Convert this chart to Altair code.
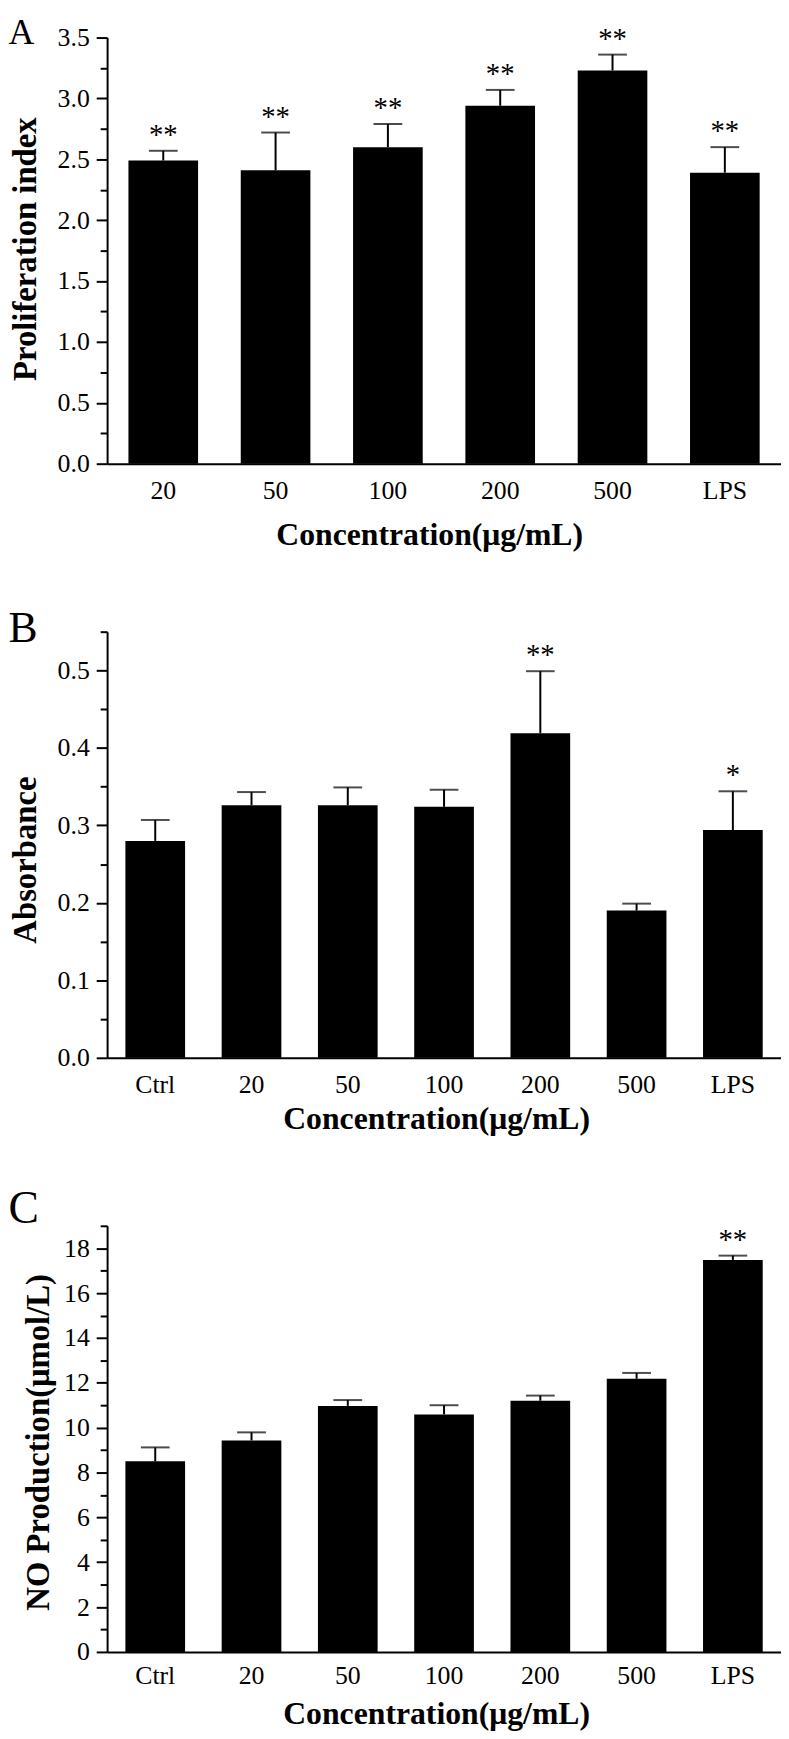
import altair as alt
import pandas as pd

# ---------------- data ----------------
cats_a = ["20", "50", "100", "200", "500", "LPS"]
prolif_mean = [2.49, 2.41, 2.60, 2.94, 3.23, 2.39]
prolif_err = [0.08, 0.31, 0.19, 0.13, 0.13, 0.21]
prolif_sig = ["**", "**", "**", "**", "**", "**"]

cats_bc = ["Ctrl", "20", "50", "100", "200", "500", "LPS"]
absorb_mean = [0.280, 0.326, 0.326, 0.324, 0.419, 0.190, 0.294]
absorb_err = [0.027, 0.017, 0.023, 0.022, 0.080, 0.009, 0.050]
absorb_sig = ["", "", "", "", "**", "", "*"]

no_mean = [8.50, 9.43, 10.97, 10.59, 11.20, 12.18, 17.48]
no_err = [0.62, 0.36, 0.26, 0.41, 0.23, 0.26, 0.19]
no_sig = ["", "", "", "", "", "", "**"]

FONT = "Liberation Serif"


def panel(cats, means, errs, sigs, letter, letter_size, letter_y,
          ytitle, ydomain, yticks, major_test, label_fmt,
          ytitle_x, ytitle_y, ytitle_size, xtitle_x, xtitle_y, xlabel_pad):
    df = pd.DataFrame({"cat": cats, "mean": means, "err": errs, "sig": sigs})
    base = alt.Chart(df).transform_calculate(upper="datum.mean + datum.err")

    x_enc = alt.X(
        "cat:N", sort=cats,
        scale=alt.Scale(paddingInner=0.38, paddingOuter=0.19),
        axis=alt.Axis(
            title="Concentration(μg/mL)", titleFontSize=32, titleFontWeight="bold",
            titleX=xtitle_x, titleY=xtitle_y, titleAlign="center",
            titleBaseline="alphabetic", ticks=False, labelPadding=xlabel_pad,
            labelAngle=0, labelFontSize=26,
        ),
    )
    y_scale = alt.Scale(domain=ydomain, nice=False, zero=True)
    y_axis = alt.Axis(
        title=ytitle, titleFontSize=ytitle_size, titleFontWeight="bold",
        titleAngle=270, titleX=ytitle_x, titleY=ytitle_y, titleAlign="center",
        titleBaseline="alphabetic",
        values=yticks, labelOverlap=False, labelFlush=False,
        labelExpr=f"({major_test}) ? format(datum.value, '{label_fmt}') : ''",
        tickSize={"condition": {"test": major_test, "value": 11}, "value": 7},
        labelPadding=7, labelFontSize=26,
    )

    bars = base.mark_bar(color="black").encode(
        x=x_enc, y=alt.Y("mean:Q", scale=y_scale, axis=y_axis)
    )
    rule = base.mark_rule(color="black", strokeWidth=2).encode(
        x=x_enc, y=alt.Y("mean:Q", scale=y_scale, axis=y_axis), y2="upper:Q"
    )
    cap = base.mark_tick(color="black", thickness=2, size=29).encode(
        x=x_enc, y=alt.Y("upper:Q", scale=y_scale, axis=y_axis)
    )
    stars = base.mark_text(
        font=FONT, fontSize=29, baseline="alphabetic", dy=-7, color="black"
    ).encode(x=x_enc, y=alt.Y("upper:Q", scale=y_scale, axis=y_axis), text="sig:N")
    lab = alt.Chart(pd.DataFrame({"t": [letter]})).mark_text(
        font=FONT, fontSize=letter_size, align="left", baseline="alphabetic",
        color="black",
    ).encode(text="t:N", x=alt.value(-99.5), y=alt.value(letter_y))

    return alt.layer(bars, rule, cap, stars, lab).properties(width=680, height=430)


ticks_a = [i * 0.25 for i in range(15)]
ticks_b = [round(i * 0.05, 2) for i in range(12)]
ticks_c = list(range(20))

pa = panel(cats_a, prolif_mean, prolif_err, prolif_sig, "A", 36, 7,
           "Proliferation index", [0, 3.5], ticks_a,
           "abs(datum.value*2 - round(datum.value*2)) < 1e-6", ".1f",
           -72, 213, 33, 325, 82, 14)
pb = panel(cats_bc, absorb_mean, absorb_err, absorb_sig, "B", 44, 10,
           "Absorbance", [0, 0.55], ticks_b,
           "abs(datum.value*10 - round(datum.value*10)) < 1e-6", ".1f",
           -72, 230, 33, 332, 71, 14)
pc = panel(cats_bc, no_mean, no_err, no_sig, "C", 46, -3,
           "NO Production(μmol/L)", [0, 19], ticks_c,
           "abs(datum.value/2 - round(datum.value/2)) < 1e-6", "d",
           -59, 218, 33, 332, 72, 11)

chart = alt.vconcat(pa, pb, pc, spacing=169.5, bounds="flush").properties(
    padding={"left": 0, "top": 0, "right": 0, "bottom": 0}
).configure_view(stroke=None).configure_axis(
    labelFont=FONT, titleFont=FONT, labelColor="black", titleColor="black",
    domainColor="black", tickColor="black", domainWidth=2, tickWidth=2, grid=False,
).configure_text(font=FONT)

chart.save("out.html", embed_options={"renderer": "svg", "actions": False})
